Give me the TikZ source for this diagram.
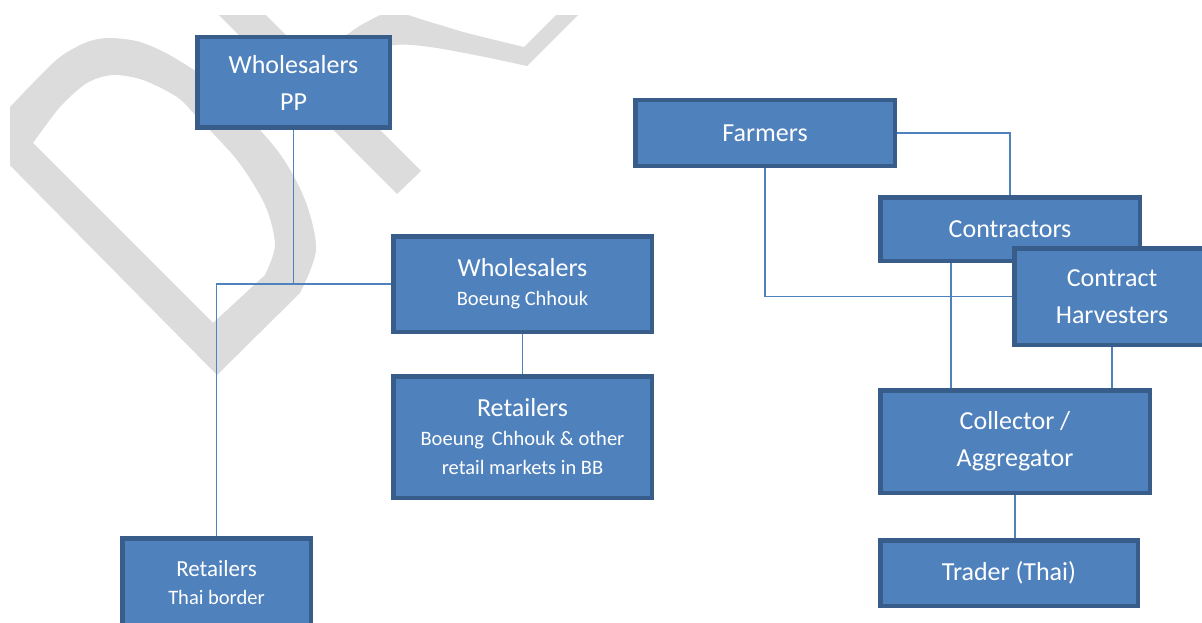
\documentclass[tikz,border=0pt]{standalone}
\usepackage{fontspec}
\setmainfont{Carlito}
\usetikzlibrary{
  positioning,
  backgrounds
}
\definecolor{boxfill}{RGB}{79, 129, 189}
\definecolor{boxborder}{RGB}{56, 93, 138}
\definecolor{linkcolor}{RGB}{79, 129, 189}
\definecolor{draftgray}{RGB}{220, 220, 220}
\newcommand{\subfont}{\fontsize{20.5pt}{29pt}\selectfont}
\tikzset{
chainbox/.style={
  rectangle,
  draw=boxborder,
  fill=boxfill,
  line width=4.5pt,
  text=white,
  align=center,
  outer sep=0pt,
  font=\fontsize{26pt}{37pt}\selectfont
},
link/.style={
  draw=linkcolor,
  line width=1.5pt
},
draftmark/.style={
  fill=draftgray
}
}

\begin{document}
\begin{tikzpicture}[
    % one unit = one pixel of the page, y going down
    x=1pt,
    y=-1pt,
]
\useasboundingbox (0,0) rectangle (1202,623);

% ============================================================================
% Left chain: Wholesalers PP -> Boeung Chhouk / Thai border
% ============================================================================

% Wholesalers PP
\node[chainbox, minimum width=192.5pt, minimum height=90.5pt] (ppwhole) at (293.5,82.5) {
    Wholesalers\\
    PP
};

% Wholesalers Boeung Chhouk
\node[chainbox, minimum width=258.5pt, minimum height=95.5pt] (bcwhole) at (522.5,284) {
    Wholesalers\\[-8pt]
    {\subfont Boeung Chhouk}
};

% Retailers Boeung Chhouk
\node[chainbox, minimum width=258.5pt, minimum height=121.5pt, below=44.5pt of bcwhole] (bbret) {
    Retailers\\[-8pt]
    {\subfont Boeung\, Chhouk \& other}\\[-8pt]
    {\subfont retail markets in BB}
};

% Retailers Thai border
\node[chainbox, minimum width=188.5pt, minimum height=89.5pt, font=\fontsize{23pt}{33pt}\selectfont] (thairet) at (216.5,583) {
    Retailers\\[-5pt]
    {\subfont Thai border}
};

% ============================================================================
% Right chain: Farmers -> Contractors / Harvesters -> Collector -> Trader
% ============================================================================

% Farmers
\node[chainbox, minimum width=259.5pt, minimum height=65.5pt] (farmers) at (765,133) {Farmers};

% Contractors
\node[chainbox, minimum width=259.5pt, minimum height=63.5pt] (contractors) at (1010,229) {Contractors};

% Contract Harvesters (lies over Contractors)
\node[chainbox, minimum width=195.5pt, minimum height=96.5pt] (harvesters) at (1112,296.5) {
    Contract\\
    Harvesters
};

% Collector / Aggregator
\node[chainbox, minimum width=269.5pt, minimum height=102.5pt] (collector) at (1015,441.5) {
    Collector /\\
    Aggregator
};

% Trader
\node[chainbox, minimum width=257.5pt, minimum height=65.5pt, below=47.5pt of collector, xshift=-6pt] (trader) {Trader (Thai)};

\coordinate (contrfoot) at ([xshift=-59pt]contractors.south);

% ============================================================================
% Watermark and connectors behind the boxes
% ============================================================================

\begin{scope}[on background layer]
    % DRAFT watermark, cut at the page edge
    \begin{scope}
        \clip (10,16) rectangle (1202,623);
        % letter D
        \fill[draftmark, even odd rule]
            plot[smooth] coordinates {(-5,122) (10,107) (33,83) (60,57) (87,42) (110,38) (140,42) (173,57) (221,90) (277,150) (305,200) (316,250) (300,293)}
            -- (217,375) -- (-20,135) -- cycle
            plot[smooth] coordinates {(33,143) (60,107) (87,83) (113,75) (143,80) (177,97) (197,117) (237,160) (265,205) (275,245) (265,275)}
            -- (213,323) -- cycle;
        % letter R
        \fill[draftmark] (204,0) -- (251,0) -- (421,171) -- (397,194) -- cycle;
        \fill[draftmark]
            plot[smooth] coordinates {(330,45) (345,36) (363,24) (392,12) (430,22) (467,33) (524,47)}
            -- (571,0) -- (593,0) -- (527,66)
            -- plot[smooth] coordinates {(527,66) (480,56) (430,47) (395,45) (360,56) (340,62)}
            -- cycle;
    \end{scope}

    % left chain
    \draw[link] (ppwhole.south) |- (bcwhole.west);
    \draw[link] (bcwhole.west) -| (thairet.north);
    \draw[link] (bcwhole.south) -- (bcwhole.south |- bbret.north);

    % right chain
    \draw[link] (farmers.east) -| (contractors.north);
    \draw[link] (farmers.south) |- (harvesters.west);
    \draw[link] (contrfoot) -- (contrfoot |- collector.north);
    \draw[link] (harvesters.south) -- (harvesters.south |- collector.north);
    \draw[link] (collector.south) -- (collector.south |- trader.north);
\end{scope}

\end{tikzpicture}
\end{document}
